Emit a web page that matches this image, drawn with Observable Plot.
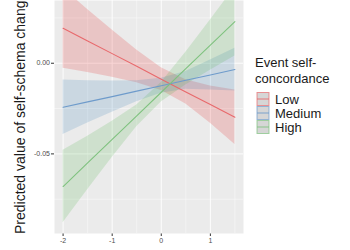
<!DOCTYPE html>
<html>
<head>
<meta charset="utf-8">
<script src="https://cdn.jsdelivr.net/npm/d3@7"></script>
<script src="https://cdn.jsdelivr.net/npm/@observablehq/plot@0.6"></script>
<style>
  html, body { margin: 0; padding: 0; background: white; }
  #chart { position: relative; width: 350px; height: 250px; overflow: hidden; }
</style>
</head>
<body>
<div id="chart"></div>
<script>
// ---- data ----
const groups = ["Low", "Medium", "High"];
const xs = [-2, -1.5, -1, -0.5, 0, 0.5, 1, 1.5];

const fitLow   = [0.0193, 0.0123, 0.0053, -0.0017, -0.0088, -0.0158, -0.0228, -0.0298];
const loLow    = [-0.0027, -0.0051, -0.0077, -0.0107, -0.0151, -0.0225, -0.0331, -0.0448];
const hiLow    = [0.0413, 0.0297, 0.0183, 0.0073, -0.0025, -0.0091, -0.0125, -0.0148];

const fitMed   = [-0.0243, -0.0213, -0.0184, -0.0154, -0.0124, -0.0094, -0.0065, -0.0035];
const loMed    = [-0.0393, -0.0330, -0.0270, -0.0212, -0.0165, -0.0143, -0.0148, -0.0153];
const hiMed    = [-0.0093, -0.0096, -0.0098, -0.0096, -0.0083, -0.0045, 0.0018, 0.0083];

const fitHigh  = [-0.0680, -0.0550, -0.0420, -0.0290, -0.0160, -0.0030, 0.0100, 0.0230];
const loHigh   = [-0.0880, -0.0698, -0.0520, -0.0350, -0.0214, -0.0120, -0.0038, 0.0040];
const hiHigh   = [-0.0480, -0.0402, -0.0320, -0.0230, -0.0106, 0.0060, 0.0238, 0.0420];

const xTicks = [-2, -1, 0, 1];
const xMinor = [-1.5, -0.5, 0.5, 1.5];
const yTicks = [0, -0.05];
const yMinor = [0.025, -0.025, -0.075];

const yTitle = "Predicted value of self-schema change";
const legendTitle = ["Event self-", "concordance"];

// ---- styling ----
const ribbonColors = {Low: "#E41A1C", Medium: "#377EB8", High: "#4DAF4A"};
const lineColors = {Low: "#E8696C", Medium: "#6E9BCB", High: "#7FC27F"};

const series = {
  Low: [fitLow, loLow, hiLow],
  Medium: [fitMed, loMed, hiMed],
  High: [fitHigh, loHigh, hiHigh]
};
const rows = [];
for (const g of groups) {
  const [f, lo, hi] = series[g];
  xs.forEach((x, i) => rows.push({g, x, fit: f[i], lo: lo[i], hi: hi[i]}));
}

const marks = [
  Plot.frame({fill: "#EBEBEB", stroke: null}),
  Plot.gridX(xMinor, {stroke: "white", strokeOpacity: 0.7, strokeWidth: 0.6}),
  Plot.gridY(yMinor, {stroke: "white", strokeOpacity: 0.7, strokeWidth: 0.6}),
  Plot.gridX(xTicks, {stroke: "white", strokeOpacity: 0.9, strokeWidth: 1}),
  Plot.gridY(yTicks, {stroke: "white", strokeOpacity: 0.9, strokeWidth: 1})
];
for (const g of groups) {
  marks.push(Plot.areaY(rows.filter(d => d.g === g), {
    x: "x", y1: "lo", y2: "hi", fill: ribbonColors[g], fillOpacity: 0.18, clip: true
  }));
}
for (const g of groups) {
  marks.push(Plot.lineY(rows.filter(d => d.g === g), {
    x: "x", y: "fit", stroke: lineColors[g], strokeWidth: 1.1, clip: true
  }));
}

const plot = Plot.plot({
  width: 350,
  height: 250,
  marginLeft: 54,
  marginRight: 107,
  marginTop: 0,
  marginBottom: 17,
  style: {fontFamily: "'Liberation Sans', Arial, sans-serif", fontSize: "7px", color: "#4D4D4D", background: "white"},
  x: {domain: [-2.175, 1.675], ticks: xTicks, tickFormat: d => String(d), tickSize: 3, tickPadding: 1.5, label: null},
  y: {domain: [-0.0939, 0.0346], ticks: yTicks, tickFormat: d => d.toFixed(2), tickSize: 3, tickPadding: 1.5, label: null},
  marks
});

document.getElementById("chart").appendChild(plot);

// y-axis title and legend
const svg = d3.select(plot);
svg.selectAll("g[aria-label='x-axis tick'], g[aria-label='y-axis tick']").attr("stroke", "#333333");

svg.append("text")
  .attr("transform", "translate(25,234) rotate(-90)")
  .attr("text-anchor", "start")
  .attr("font-size", 14)
  .attr("fill", "#1A1A1A")
  .text(yTitle);

const lg = svg.append("g").attr("font-size", 13).attr("fill", "#1A1A1A").attr("text-anchor", "start");
legendTitle.forEach((t, i) => lg.append("text").attr("x", 255).attr("y", 67 + i * 16).text(t));
groups.forEach((g, i) => {
  const y0 = 92 + i * 14;
  lg.append("rect").attr("x", 257).attr("y", y0 + 0.5).attr("width", 12).attr("height", 13)
    .attr("fill", "#D6D6D6").attr("stroke", lineColors[g]).attr("stroke-opacity", 0.7).attr("stroke-width", 1);
  lg.append("line").attr("x1", 257).attr("x2", 269).attr("y1", y0 + 7).attr("y2", y0 + 7)
    .attr("stroke", lineColors[g]).attr("stroke-width", 1.1).attr("stroke-opacity", 0.8);
  lg.append("text").attr("x", 275).attr("y", y0 + 12).text(g);
});
</script>
</body>
</html>
